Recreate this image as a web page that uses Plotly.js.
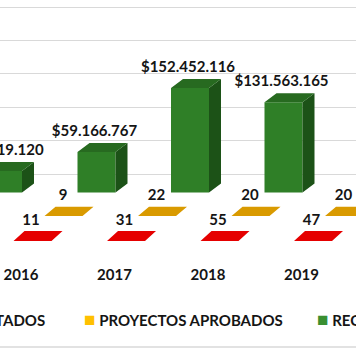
<!DOCTYPE html>
<html><head><meta charset="utf-8">
<script src="https://cdn.plot.ly/plotly-3.0.1.min.js"></script>
<style>html,body{margin:0;padding:0;overflow:hidden;background:#fff}#chart{width:356px;height:364px}</style>
</head><body><div id="chart"></div>
<script>
// ---- data ----
const years = ['2016', '2017', '2018', '2019', '2020'];
const presentados = [11, 31, 55, 47, null];
const aprobados = [9, 22, 20, 20, null];
const recursos = [31519120, 59166767, 152452116, 131563165, 162100000];
const recursosLabels = ['$31.519.120', '$59.166.767', '$152.452.116', '$131.563.165', '$162.100.000'];
const seriesNames = ['PROYECTOS PRESENTADOS', 'PROYECTOS APROBADOS', 'RECURSOS'];

// ---- geometry / style constants (pixels) ----
const W = 356, H = 364, MB = 100, PLOT_H = H - MB;
const PX_X = 93.5, X0_PX = 21;
const PX_PER_DOLLAR = 0.686e-6, ZERO_PX = 192.6;
const xu = px => px / PX_X;
const yu = px => px / PX_PER_DOLLAR;
const yTop = ZERO_PX / PX_PER_DOLLAR;
const yBot = yTop - PLOT_H / PX_PER_DOLLAR;

const C = {
  greenFront: '#2F7F27', greenSide: '#1C5217', greenTop: '#276A20', greenLegend: '#3A8F31',
  red: '#E50000', gold: '#D99A00', goldLegend: '#FFC000', text: '#151515', grid: '#D9D9D9'
};
const FONT = {family: 'Lato, "Open Sans", sans-serif', size: 15, color: C.text, weight: 700};

const idx = years.map((_, i) => i);
const GREEN_OFF = xu(-18), BAR_W = xu(38), DX = xu(12), DY = yu(9);

// green 3D pieces
const sideX = [], sideY = [], topX = [], topY = [];
recursos.forEach((v, i) => {
  if (v == null) return;
  const xl = i + GREEN_OFF - BAR_W / 2, xr = i + GREEN_OFF + BAR_W / 2;
  sideX.push(xr, xr + DX, xr + DX, xr, xr, null);
  sideY.push(0, DY, v + DY, v, 0, null);
  topX.push(xl, xr, xr + DX, xl + DX, xl, null);
  topY.push(v, v, v + DY, v + DY, v, null);
});

function flatRow(vals, offPx, botPx, topPx) {
  const X = [], Y = [], w = xu(38), s = xu(11);
  vals.forEach((v, i) => {
    if (v == null) return;
    const xc = i + xu(offPx), yb = yu(botPx), yt = yu(topPx) + v;
    X.push(xc - w / 2 - s / 2, xc + w / 2 - s / 2, xc + w / 2 + s / 2, xc - w / 2 + s / 2, xc - w / 2 - s / 2, null);
    Y.push(yb, yb, yt, yt, yb, null);
  });
  return {X, Y};
}
const redRow = flatRow(presentados, 17, -48.4, -38.4);
const goldRow = flatRow(aprobados, 48, -23.4, -14.1);

const traces = [
  {type: 'scatter', x: redRow.X, y: redRow.Y, fill: 'toself', fillcolor: C.red, mode: 'lines',
   line: {width: 0, color: C.red}, name: seriesNames[0], showlegend: false, hoverinfo: 'skip'},
  {type: 'scatter', x: goldRow.X, y: goldRow.Y, fill: 'toself', fillcolor: C.gold, mode: 'lines',
   line: {width: 0, color: C.gold}, name: seriesNames[1], showlegend: false, hoverinfo: 'skip'},
  {type: 'bar', x: idx, y: recursos, width: BAR_W, offset: GREEN_OFF - BAR_W / 2,
   marker: {color: C.greenFront, line: {width: 0}}, name: seriesNames[2], showlegend: false},
  {type: 'scatter', x: sideX, y: sideY, fill: 'toself', fillcolor: C.greenSide, mode: 'lines',
   line: {width: 0, color: C.greenSide}, showlegend: false, hoverinfo: 'skip'},
  {type: 'scatter', x: topX, y: topY, fill: 'toself', fillcolor: C.greenTop, mode: 'lines',
   line: {width: 0, color: C.greenTop}, showlegend: false, hoverinfo: 'skip'},
  {type: 'scatter', mode: 'text', x: idx.map(i => i + xu(-20)), y: recursos.map(v => v == null ? null : v + yu(20)),
   text: recursosLabels, textposition: 'middle center', textfont: FONT, cliponaxis: false, showlegend: false, hoverinfo: 'skip'},
  {type: 'scatter', mode: 'text', x: idx.map(i => i + xu(10)), y: presentados.map(v => v == null ? null : yu(-38.4 + 10)),
   text: presentados.map(v => v == null ? '' : String(v)), textposition: 'middle center', textfont: FONT, cliponaxis: false, showlegend: false, hoverinfo: 'skip'},
  {type: 'scatter', mode: 'text', x: idx.map(i => i + xu(42)), y: aprobados.map(v => v == null ? null : yu(-14.1 + 10)),
   text: aprobados.map(v => v == null ? '' : String(v)), textposition: 'middle center', textfont: FONT, cliponaxis: false, showlegend: false, hoverinfo: 'skip'}
];

// gridlines on the back wall
const gridVals = [0, 1, 2, 3, 4, 5].map(k => yu(ZERO_PX - (174 - 33.4 * k)));

const legY = (PLOT_H - 318) / PLOT_H;
const sq = c => '<span style="color:' + c + ';font-size:19px">\u25A0</span> ';
const layout = {
  width: W, height: H,
  margin: {l: 0, r: 0, t: 0, b: MB, pad: 0},
  paper_bgcolor: '#fff', plot_bgcolor: '#fff',
  font: FONT,
  showlegend: false,
  xaxis: {range: [-X0_PX / PX_X, (W - X0_PX) / PX_X], tickmode: 'array', tickvals: idx, ticktext: years,
          showgrid: false, zeroline: false, showline: false, ticks: '', tickfont: FONT, fixedrange: true},
  yaxis: {range: [yBot, yTop], tickmode: 'array', tickvals: gridVals, showticklabels: false,
          showgrid: true, gridcolor: C.grid, gridwidth: 1, zeroline: false, showline: false, ticks: '', fixedrange: true},
  annotations: [
    {xref: 'paper', yref: 'paper', x: 47 / W, y: legY, xanchor: 'right', yanchor: 'middle', showarrow: false,
     text: sq(C.red) + seriesNames[0], font: FONT},
    {xref: 'paper', yref: 'paper', x: 82 / W, y: legY, xanchor: 'left', yanchor: 'middle', showarrow: false,
     text: sq(C.goldLegend) + seriesNames[1], font: FONT},
    {xref: 'paper', yref: 'paper', x: 315 / W, y: legY, xanchor: 'left', yanchor: 'middle', showarrow: false,
     text: sq(C.greenLegend) + seriesNames[2], font: FONT}
  ],
  shapes: [
    {type: 'line', xref: 'paper', yref: 'paper', x0: 0, x1: 1, y0: (PLOT_H - 347) / PLOT_H, y1: (PLOT_H - 347) / PLOT_H,
     line: {color: '#E2E2E2', width: 2}}
  ]
};
Plotly.newPlot('chart', traces, layout, {staticPlot: true, displayModeBar: false});
</script></body></html>
